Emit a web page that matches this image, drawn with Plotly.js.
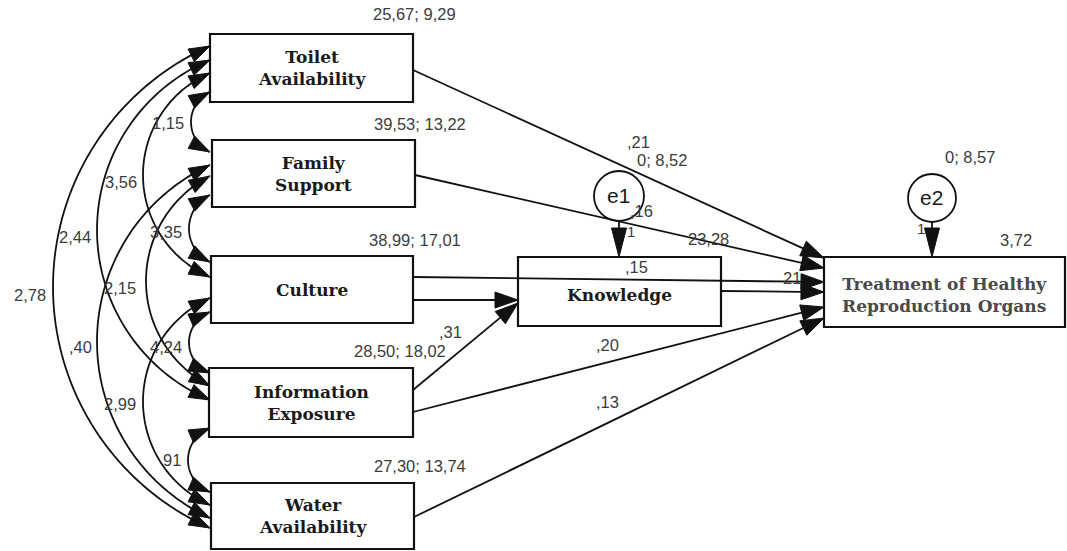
<!DOCTYPE html>
<html><head><meta charset="utf-8">
<script src="https://cdn.plot.ly/plotly-3.0.1.min.js"></script>
<style>html,body{margin:0;padding:0;background:#fff;}#chart{width:1067px;height:551px;}</style>
</head><body><div id="chart"></div>
<script>
// ---------- DATA ----------
const exogenous = ["Toilet<br>Availability", "Family<br>Support", "Culture", "Information<br>Exposure", "Water<br>Availability"];
const exoStats = ["25,67; 9,29", "39,53; 13,22", "38,99; 17,01", "28,50; 18,02", "27,30; 13,74"];
const endogenous = ["Knowledge", "Treatment of Healthy<br>Reproduction Organs"];
const errorTerms = ["e1", "e2"];
const errorStats = ["0; 8,52", "0; 8,57"];
const errorWeights = ["1", "1"];
const covPairs = [[0,1],[1,2],[2,3],[3,4],[0,2],[1,3],[2,4],[0,3],[1,4],[0,4]];
const covValues = ["1,15", "3,35", "4,24", "91", "3,56", "2,15", "2,99", "2,44", ",40", "2,78"];
const pathLabels = [",21", "23,28", ",15", "21", ",20", ",13", ",31", ",16", "3,72"];

// ---------- GEOMETRY (layout only) ----------
const exoBox = [[210,413,34,102],[212,415,140,207],[211,413,256,323],[209,413,368,437],[211,414,483,549]];
const endoBox = [[518,721,257,326],[824,1065,257,327]];
const errCircle = [[619,196,25],[932,198,24]];
const statPos = [[414,14],[420,124],[415,240],[400,351],[420,466]];
const errStatPos = [[662,160],[970,157]];
const errWeightPos = [[631,231],[921,228]];
const covGeom = [ // [yOnFirst, yOnSecond, leftmostX]
  [92,152,191],[195,262,189],[312,373,189],[428,492,188],
  [73,277,143],[176,386,146],[298,505,143],
  [60,400,97],[165,518,97],[46,528,53]];
const covLabelPos = [[186,123],[184,232],[184,347],[183,460],[139,182],[138,288],[138,404],[93,237],[94,347],[48,295]];
const arcX = 210;
const straightPaths = [ // [x0,y0,x1,y1, arrowLen, halfWidth]
  [413,70,824,258,23,8],[415,175,824,268,23,8],[413,277,824,282,23,8],[721,291,824,292,23,8],
  [413,412,824,307,23,8],[414,517,824,318,23,8],[413,300,518,300,23,8],[413,390,518,303,23,8],
  [619,221,619,257,29,7.5],[932,222,932,257,29,7.5]];
const pathLabelPos = [[638,142],[708,239],[636,267],[792,278],[607,345],[607,402],[450,332],[641,211],[1016,240]];

// ---------- BUILD ----------
const shapes = [];
const annotations = [];
const ink = "#111";
const grey = "#3c3c3c";

function arrowHead(tx, ty, dx, dy, L, W) {
  const n = Math.hypot(dx, dy); dx /= n; dy /= n;
  const bx = tx - L*dx, by = ty - L*dy;
  const px = -dy, py = dx;
  shapes.push({type:"path", xref:"x", yref:"y",
    path:`M${tx},${ty} L${bx+W*px},${by+W*py} L${bx-W*px},${by-W*py} Z`,
    fillcolor:ink, line:{color:ink, width:1}});
  return [bx, by];
}

// boxes
exoBox.concat(endoBox).forEach(b => {
  shapes.push({type:"rect", xref:"x", yref:"y", x0:b[0], x1:b[1], y0:b[2], y1:b[3],
    line:{color:ink, width:2.2}, fillcolor:"white"});
});
// error circles
errCircle.forEach(c => {
  shapes.push({type:"circle", xref:"x", yref:"y", x0:c[0]-c[2], x1:c[0]+c[2], y0:c[1]-c[2], y1:c[1]+c[2],
    line:{color:ink, width:1.8}, fillcolor:"white"});
});

// covariance arcs
covPairs.forEach((p, i) => {
  const [yA, yB, xl] = covGeom[i];
  const d = arcX - xl, hh = (yB - yA)/2;
  const r = (d*d + hh*hh)/(2*d);
  const cx = xl + r, cy = (yA + yB)/2;
  const thA = Math.atan2(yA - cy, arcX - cx) + 2*Math.PI;
  const thB = Math.atan2(yB - cy, arcX - cx);
  const N = 80, pts = [];
  for (let k = 0; k <= N; k++) {
    const t = thB + (thA - thB)*k/N;
    pts.push([cx + r*Math.cos(t), cy + r*Math.sin(t)]);
  }
  const L = 21, W = 7;
  const endA = pts[N], preA = pts[N-3];
  const endB = pts[0], preB = pts[3];
  arrowHead(endA[0], endA[1], endA[0]-preA[0], endA[1]-preA[1], L, W);
  arrowHead(endB[0], endB[1], endB[0]-preB[0], endB[1]-preB[1], L, W);
  const path = "M" + pts.map(q => q[0].toFixed(2) + "," + q[1].toFixed(2)).join(" L");
  shapes.push({type:"path", xref:"x", yref:"y", path:path, line:{color:ink, width:1.8}});
  annotations.push({x:covLabelPos[i][0], y:covLabelPos[i][1], xref:"x", yref:"y", text:covValues[i],
    showarrow:false, xanchor:"right", yanchor:"middle", font:{family:"Liberation Sans, Arial", size:16.5, color:grey}});
});

// straight paths
straightPaths.forEach(s => {
  const [x0,y0,x1,y1,L,W] = s;
  const base = arrowHead(x1, y1, x1-x0, y1-y0, L, W);
  shapes.push({type:"line", xref:"x", yref:"y", x0:x0, y0:y0, x1:base[0], y1:base[1], line:{color:ink, width:1.8}});
});

// box labels
const serif = "DejaVu Serif, Georgia, serif";
exogenous.forEach((t, i) => {
  const b = exoBox[i];
  annotations.push({x:(b[0]+b[1])/2, y:(b[2]+b[3])/2, xref:"x", yref:"y", text:"<b>"+t+"</b>",
    showarrow:false, font:{family:serif, size:17, color:"#1a1a1a"}});
  annotations.push({x:statPos[i][0], y:statPos[i][1], xref:"x", yref:"y", text:exoStats[i],
    showarrow:false, font:{family:"Liberation Sans, Arial", size:16.5, color:grey}});
});
endogenous.forEach((t, i) => {
  const b = endoBox[i];
  annotations.push({x:(b[0]+b[1])/2, y:(b[2]+b[3])/2 + 3, xref:"x", yref:"y", text:"<b>"+t+"</b>",
    showarrow:false, font:{family:serif, size:17, color: i===1 ? "#4a4a4a" : "#1a1a1a"}});
});
errorTerms.forEach((t, i) => {
  const c = errCircle[i];
  annotations.push({x:c[0] - 1, y:c[1] - 1, xref:"x", yref:"y", text:t, showarrow:false,
    font:{family:"Liberation Sans, Arial", size:21, color:"#1a1a1a"}});
  annotations.push({x:errStatPos[i][0], y:errStatPos[i][1], xref:"x", yref:"y", text:errorStats[i], showarrow:false,
    font:{family:"Liberation Sans, Arial", size:16.5, color:grey}});
  annotations.push({x:errWeightPos[i][0], y:errWeightPos[i][1], xref:"x", yref:"y", text:errorWeights[i], showarrow:false,
    font:{family:"Liberation Sans, Arial", size:15, color:grey}});
});
pathLabels.forEach((t, i) => {
  annotations.push({x:pathLabelPos[i][0], y:pathLabelPos[i][1], xref:"x", yref:"y", text:t, showarrow:false,
    font:{family:"Liberation Sans, Arial", size:16.5, color:grey}});
});

const layout = {
  width:1067, height:551, margin:{l:0,r:0,t:0,b:0},
  paper_bgcolor:"white", plot_bgcolor:"white", showlegend:false,
  xaxis:{range:[0,1067], visible:false, fixedrange:true},
  yaxis:{range:[551,0], visible:false, fixedrange:true},
  shapes:shapes, annotations:annotations
};
Plotly.newPlot("chart", [{x:[0], y:[0], mode:"markers", marker:{opacity:0}, hoverinfo:"skip"}], layout, {staticPlot:true});
</script></body></html>
